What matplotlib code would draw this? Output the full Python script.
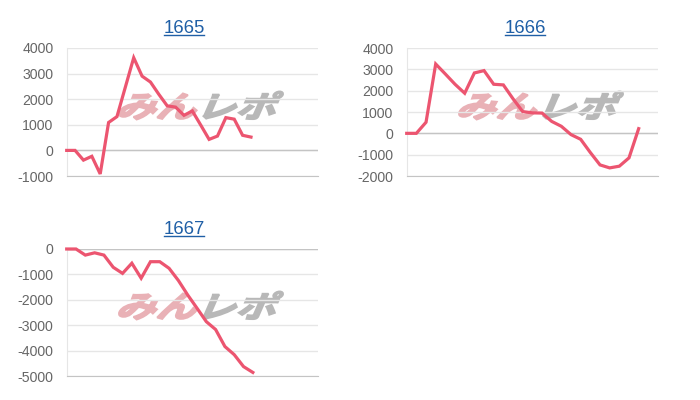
import matplotlib
matplotlib.use('Agg')
import matplotlib.pyplot as plt
from matplotlib.textpath import TextPath
from matplotlib.patches import PathPatch
from matplotlib.font_manager import FontProperties
from matplotlib.transforms import Affine2D, IdentityTransform
from matplotlib.lines import Line2D

# ---- data ----
titles = ['1665', '1666', '1667']
day_counts = [31, 27, 28]
values_1665 = [0, 0, -380, -230, -920, 1090, 1320, 2470, 3620, 2900, 2670, 2190,
               1740, 1690, 1370, 1540, 990, 430, 560, 1280, 1220, 590, 520]
values_1666 = [0, 0, 520, 3250, 2780, 2300, 1880, 2830, 2940, 2300, 2270, 1620,
               1020, 960, 950, 560, 330, -60, -280, -900, -1480, -1620, -1540,
               -1150, 220]
values_1667 = [0, 0, -240, -150, -240, -720, -960, -560, -1150, -500, -500, -760,
               -1240, -1810, -2330, -2860, -3170, -3840, -4160, -4630, -4860]
yticks_1665 = [-1000, 0, 1000, 2000, 3000, 4000]
yticks_1666 = [-2000, -1000, 0, 1000, 2000, 3000, 4000]
yticks_1667 = [-5000, -4000, -3000, -2000, -1000, 0]
watermark_left = 'みん'
watermark_right = 'レポ'

series = [values_1665, values_1666, values_1667]
yticks = [yticks_1665, yticks_1666, yticks_1667]

# ---- layout (pixels, top-left origin) ----
W, H = 700, 400
axes_px = [(66.7, 48, 318, 176), (406.7, 48, 658, 176), (66.7, 249, 318, 376)]
title_px = [(184.5, 33.3), (525, 33.3), (184.5, 233.8)]
wm_px = [(119, 91.5, 283, 119.5), (459, 91.5, 623, 119.5), (119, 291.5, 283, 319.5)]

LINE = '#ec5570'
GRID = '#e6e6e6'
ZERO = '#c4c4c4'
TICK = '#666666'
TITLE = '#1f5fa6'
PINK = '#e9b1b6'
GRAY = '#b8b8b8'

fig = plt.figure(figsize=(7, 4), dpi=100)
fp = FontProperties(family='Noto Sans CJK JP', weight='bold')


def box(l, t, r, b):
    return [l / W, (H - b) / H, (r - l) / W, (b - t) / H]


def add_watermark(ax, l, t, r, b):
    full = TextPath((0, 0), watermark_left + watermark_right, size=1, prop=fp)
    p1 = TextPath((0, 0), watermark_left, size=1, prop=fp)
    p2 = TextPath((len(watermark_left), 0), watermark_right, size=1, prop=fp)
    skew = Affine2D().skew_deg(18, 0)
    e = skew.transform_path(full).get_extents()
    T = skew + Affine2D().translate(-e.x0, -e.y0).scale((r - l) / e.width,
                                                        (b - t) / e.height).translate(l, H - b)
    for path, col in ((p1, PINK), (p2, GRAY)):
        ax.add_patch(PathPatch(path, transform=T, facecolor=col, edgecolor=col,
                               lw=1.4, joinstyle='miter', zorder=0.2, clip_on=False))


for i in range(3):
    ax = fig.add_axes(box(*axes_px[i]))
    add_watermark(ax, *wm_px[i])
    v = series[i]
    yt = yticks[i]
    ax.plot(range(len(v)), v, color=LINE, lw=2.3, solid_joinstyle='miter',
            clip_on=False, zorder=3)
    ax.set_xlim(0, day_counts[i] - 1)
    ax.set_ylim(yt[0], yt[-1])
    ax.set_xticks([])
    ax.set_yticks(yt)
    ax.set_yticklabels([str(t) for t in yt], family='Liberation Sans')
    ax.tick_params(axis='y', length=0, pad=9.5, labelsize=10.2, colors=TICK)
    ax.set_axisbelow(True)
    ax.grid(axis='y', color=GRID, lw=1)
    ax.axhline(0, color=ZERO, lw=1, zorder=0.6)
    for s in ('top', 'right'):
        ax.spines[s].set_visible(False)
    ax.spines['left'].set_color(GRID)
    ax.spines['bottom'].set_color(ZERO)
    ax.patch.set_alpha(0)

texts = []
for i in range(3):
    x, y = title_px[i]
    t = fig.text(x / W, 1 - y / H, titles[i], ha='center', va='baseline',
                 fontsize=13.3, color=TITLE, family='Liberation Sans')
    texts.append(t)

fig.canvas.draw()
r = fig.canvas.get_renderer()
for i, t in enumerate(texts):
    bb = t.get_window_extent(r)
    yb = H - title_px[i][1] - 1.8
    fig.add_artist(Line2D([bb.x0 + 0.5, bb.x1 - 1.0], [yb, yb], transform=IdentityTransform(),
                          color=TITLE, lw=1.0))

fig.savefig('out.png', dpi=100)
